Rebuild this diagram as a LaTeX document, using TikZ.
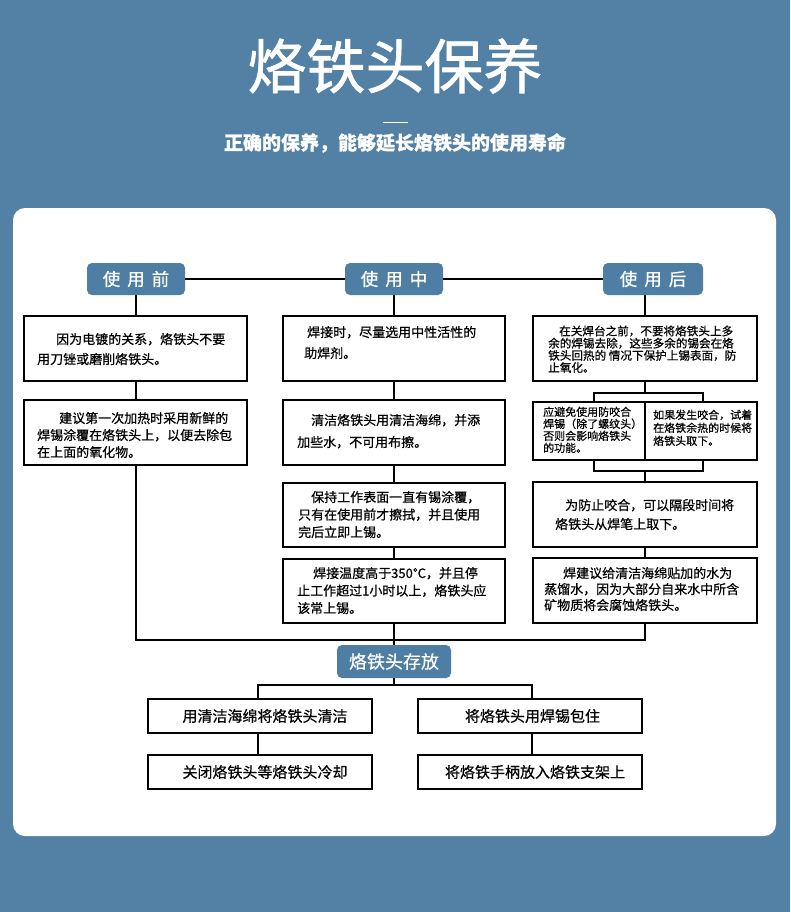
\documentclass[tikz,border=0pt]{standalone}
\usepackage{fontspec}
\setmainfont{Noto Sans CJK SC}[FakeBold=0.6]
\newfontfamily\titlefont{Noto Sans CJK SC}[FakeBold=1.2]
\definecolor{bgblue}{RGB}{82,129,165}
\definecolor{hdblue}{RGB}{78,126,163}
\begin{document}
\begin{tikzpicture}[x=1pt,y=-1pt,
  box/.style={draw=black,line width=1.5pt,fill=white,inner sep=0pt},
  hdr/.style={fill=hdblue,rounded corners=5pt,inner sep=0pt,text=white,font={\fontsize{17.5}{20}\selectfont}},
  txt/.style={anchor=base west,inner sep=0pt,align=left},
  conn/.style={draw=black,line width=1.5pt}]
\newcommand\mybox[6][]{\node[box,#1,minimum width={#4-#2},minimum height={#5-#3}] (#6) at ({(#2+#4)/2},{(#3+#5)/2}) {};}
\newcommand\myhdr[6]{\node[hdr,minimum width={#4-#2},minimum height={#5-#3}] (#1) at ({(#2+#4)/2},{(#3+#5)/2}) {#6};}
\useasboundingbox (0,0) rectangle (790,912);
\fill[bgblue] (0,0) rectangle (790,912);
\node[inner sep=0pt,text=white,font={\titlefont\fontsize{59}{64}\selectfont}] (title) at (395,66) {烙铁头保养};
\draw[white,line width=1pt] (383,123) -- (408,123);
\node[inner sep=0pt,text=white,font={\fontsize{19}{22}\selectfont\bfseries}] (sub) at (395,143) {正确的保养，能够延长烙铁头的使用寿命};
\fill[white,rounded corners=12pt] (13,208) rectangle (776,836);

% headers
\myhdr{Lh}{87}{263}{185}{295}{使\hspace{7pt}用\hspace{7pt}前}
\myhdr{Mh}{345}{263}{443}{295}{使\hspace{7pt}用\hspace{7pt}中}
\myhdr{Rh}{603}{263}{703}{295}{使\hspace{7pt}用\hspace{7pt}后}

% left column
\mybox{24}{316}{247}{381}{L1}
\mybox{24}{400}{247}{465}{L2}
% middle column
\mybox{283}{316}{505}{381}{M1}
\mybox{283}{400}{505}{465}{M2}
\mybox{283}{483}{505}{547}{M3}
\mybox{283}{559}{505}{623}{M4}
% right column
\mybox{533}{316}{757}{381}{R1}
\mybox{533}{402}{645}{460}{R2a}
\mybox{645}{402}{757}{460}{R2b}
\mybox{533}{482}{757}{547}{R3}
\mybox{533}{558}{757}{623}{R4}

\begin{scope}[font={\fontsize{13}{20}\selectfont}]
\node[txt] (L1t) at (37,364) {\hspace*{19pt}因为电镀的关系，烙铁头不要\\用刀锉或磨削烙铁头。};
\end{scope}
\begin{scope}[font={\fontsize{13}{17}\selectfont}]
\node[txt] (L2t) at (37,457) {\hspace*{22pt}建议第一次加热时采用新鲜的\\焊锡涂覆在烙铁头上，以便去除包\\在上面的氧化物。};
\end{scope}
\begin{scope}[font={\fontsize{13}{21}\selectfont}]
\node[txt] (M1t) at (304,358) {\hspace*{3pt}焊接时，尽量选用中性活性的\\助焊剂。};
\end{scope}
\begin{scope}[font={\fontsize{13}{22}\selectfont}]
\node[txt] (M2t) at (297,447) {\hspace*{14pt}清洁烙铁头用清洁海绵，并添\\加些水，不可用布擦。};
\end{scope}
\begin{scope}[font={\fontsize{13}{17.5}\selectfont}]
\node[txt] (M3t) at (298,537) {\hspace*{13pt}保持工作表面一直有锡涂覆，\\只有在使用前才擦拭，并且使用\\完后立即上锡。};
\node[txt] (M4t) at (297,613) {\hspace*{16pt}焊接温度高于350°C，并且停\\止工作超过1小时以上，烙铁头应\\该常上锡。};
\end{scope}
\begin{scope}[font={\fontsize{11.6}{12.2}\selectfont}]
\node[txt] (R1t) at (548,372) {\hspace*{11pt}在关焊台之前，不要将烙铁头上多\\余的焊锡去除，这些多余的锡会在烙\\铁头回热的 情况下保护上锡表面，防\\止氧化。};
\end{scope}
\begin{scope}[font={\fontsize{11}{12}\selectfont}]
\node[txt] (R2at) at (543,452) {应避免使用防咬合\\焊锡（除了螺纹头）\\否则会影响烙铁头\\的功能。};
\end{scope}
\begin{scope}[font={\fontsize{11}{13}\selectfont}]
\node[txt] (R2bt) at (653,445) {如果发生咬合，试着\\在烙铁余热的时候将\\烙铁头取下。};
\end{scope}
\begin{scope}[font={\fontsize{13}{19}\selectfont}]
\node[txt] (R3t) at (555,529) {\hspace*{10pt}为防止咬合，可以隔段时间将\\烙铁头从焊笔上取下。};
\end{scope}
\begin{scope}[font={\fontsize{13}{16}\selectfont}]
\node[txt] (R4t) at (544,610) {\hspace*{19pt}焊建议给清洁海绵贴加的水为\\蒸馏水，因为大部分自来水中所含\\矿物质将会腐蚀烙铁头。};
\end{scope}

% storage
\myhdr{S}{337}{645}{451}{678}{\fontsize{18}{20}\selectfont 烙铁头存放}
\begin{scope}[font={\fontsize{15}{18}\selectfont}]
\node[box,minimum width=224,minimum height=34] (B1) at (260,716) {\hspace*{10pt}用清洁海绵将烙铁头清洁};
\node[box,minimum width=224,minimum height=34] (B2) at (530,716) {\hspace*{5pt}将烙铁头用焊锡包住};
\node[box,minimum width=224,minimum height=34] (B3) at (260,772) {\hspace*{10pt}关闭烙铁头等烙铁头冷却};
\node[box,minimum width=224,minimum height=34] (B4) at (530,772) {\hspace*{10pt}将烙铁手柄放入烙铁支架上};
\end{scope}

% connectors
\coordinate (jL) at (136,640);
\coordinate (jR) at (645,640);
\coordinate (bT) at (645,393);
\coordinate (bTL) at (594,393);
\coordinate (bTR) at (703,393);
\coordinate (bB) at (645,471);
\coordinate (bBL) at (594,471);
\coordinate (bBR) at (703,471);
\coordinate (sb) at (394,685);
\coordinate (sbL) at (258,685);
\coordinate (sbR) at (532,685);

\draw[conn] (Lh.east) -- (Mh.west);
\draw[conn] (Mh.east) -- (Rh.west);
\draw[conn] (Lh.south) -- (L1.north -| Lh.south);
\draw[conn] (L1.south -| Lh.south) -- (L2.north -| Lh.south);
\draw[conn] (L2.south -| jL) -- (jL) -- (jR) -- (R4.south);
\draw[conn] (Mh.south) -- (M1.north -| Mh.south);
\draw[conn] (M1.south -| Mh.south) -- (M2.north -| Mh.south);
\draw[conn] (M2.south -| Mh.south) -- (M3.north -| Mh.south);
\draw[conn] (M3.south -| Mh.south) -- (M4.north -| Mh.south);
\draw[conn] (M4.south -| Mh.south) -- (S.north -| Mh.south);
\draw[conn] (R1.north |- Rh.south) -- (R1.north);
\draw[conn] (R1.south) -- (bT);
\draw[conn] (bTL |- R2a.north) -- (bTL) -- (bTR) -- (bTR |- R2b.north);
\draw[conn] (bBL |- R2a.south) -- (bBL) -- (bBR) -- (bBR |- R2b.south);
\draw[conn] (bB) -- (R3.north);
\draw[conn] (R3.south) -- (R4.north);
\draw[conn] (S.south) -- (sb);
\draw[conn] (sbL |- B1.north) -- (sbL) -- (sbR) -- (sbR |- B2.north);
\draw[conn] (sbL |- B1.south) -- (sbL |- B3.north);
\draw[conn] (sbR |- B2.south) -- (sbR |- B4.north);
\end{tikzpicture}
\end{document}
